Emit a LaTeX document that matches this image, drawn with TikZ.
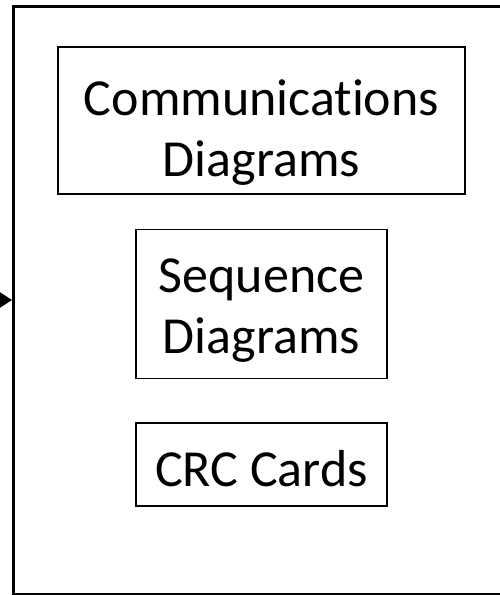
\documentclass[tikz,border=0pt]{standalone}
\usepackage{fontspec}
\setmainfont[Ligatures=NoCommon]{Carlito}
\usetikzlibrary{positioning,arrows.meta}

\begin{document}
\begin{tikzpicture}[
            x=1pt, y=-1pt,
            frame/.style={rectangle, draw=black, line width=3pt},
            simplebox/.style={
                rectangle, draw=black, line width=1.5pt, inner sep=0pt
            },
            boxtext/.style={
                align=center, inner sep=0pt,
                font=\fontsize{52}{61}\selectfont
            },
        ]
            \useasboundingbox (0,0) rectangle (500,595);

            \node [frame, minimum width=500pt, minimum height=588pt, anchor=north west] (system) at (12,5) {};

            % boxes, text sits a little low as in the slide
            \node [simplebox, minimum width=407pt, minimum height=147pt,
                   label={[boxtext, yshift=-12pt]center:Communications\\Diagrams}] (comm) at (261.5,120.5) {};
            \node [simplebox, minimum width=251pt, minimum height=149pt,
                   label={[boxtext, yshift=-7pt]center:Sequence\\Diagrams}] (seq) [ below= 34pt of comm ] {};
            \node [simplebox, minimum width=251pt, minimum height=83pt,
                   label={[boxtext, yshift=-4pt]center:CRC Cards}] (crc) [ below= 43pt of seq ] {};

            \coordinate (input) at (-10,300);
            \draw[-{Triangle[length=12pt,width=15pt]},line width=2pt] (input) -- (input -| system.west);

        \end{tikzpicture}
\end{document}
